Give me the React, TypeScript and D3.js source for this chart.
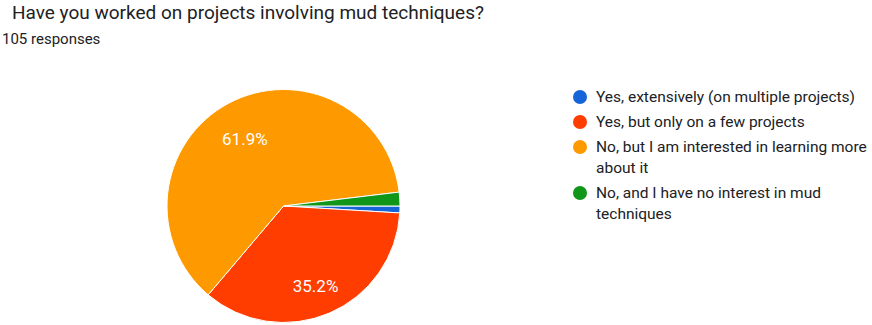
import { useEffect, useRef } from "react";
import * as d3 from "d3";

const TITLE = "Have you worked on projects involving mud techniques?";
const SUBTITLE = "105 responses";

const CATEGORIES = [
  ["Yes, extensively (on multiple projects)"],
  ["Yes, but only on a few projects"],
  ["No, but I am interested in learning more", "about it"],
  ["No, and I have no interest in mud", "techniques"],
];
const COUNTS = [1, 37, 65, 2];
const COLORS = ["#1565d8", "#ff3d00", "#ff9900", "#109618"];

const LAYOUT = {
  width: 872,
  height: 325,
  center: { x: 283.5, y: 206 },
  radius: 116.5,
  labelRatio: 0.7,
  labelShift: 5,
  legend: { x: 580, y: 97, row: 25, wrap: 21, dot: 7, textDx: 16 },
};

const FONT = "Roboto, 'Noto Sans', Arial, sans-serif";

function drawTitle(svg) {
  svg
    .append("text")
    .attr("x", 12)
    .attr("y", 19)
    .attr("font-size", 19)
    .attr("fill", "#202124")
    .text(TITLE);

  svg
    .append("text")
    .attr("x", 2)
    .attr("y", 44)
    .attr("font-size", 15)
    .attr("fill", "#202124")
    .text(SUBTITLE);
}

function drawPie(svg) {
  const { center, radius, labelRatio, labelShift } = LAYOUT;
  const total = d3.sum(COUNTS);

  const pie = d3
    .pie()
    .sort(null)
    .startAngle(Math.PI / 2)
    .endAngle(Math.PI / 2 + 2 * Math.PI)
    .value((d) => d);

  const arc = d3.arc().innerRadius(0).outerRadius(radius);
  const labelArc = d3
    .arc()
    .innerRadius(radius * labelRatio)
    .outerRadius(radius * labelRatio);

  const g = svg
    .append("g")
    .attr("transform", `translate(${center.x},${center.y})`);

  const arcs = pie(COUNTS);

  g.selectAll("path")
    .data(arcs)
    .join("path")
    .attr("d", arc)
    .attr("fill", (_d, i) => COLORS[i])
    .attr("stroke", "#fff")
    .attr("stroke-width", 1);

  // only slices big enough get a percentage label
  g.selectAll("text")
    .data(arcs.filter((d) => d.value / total > 0.05))
    .join("text")
    .attr("transform", (d) => {
      const [x, y] = labelArc.centroid(d);
      return `translate(${x},${y + labelShift})`;
    })
    .attr("text-anchor", "middle")
    .attr("dy", "0.36em")
    .attr("font-size", 17)
    .attr("fill", "#fff")
    .text((d) => `${((d.value / total) * 100).toFixed(1)}%`);
}

function drawLegend(svg) {
  const { legend } = LAYOUT;
  let y = legend.y;

  CATEGORIES.forEach((lines, i) => {
    const row = svg.append("g").attr("transform", `translate(${legend.x},${y})`);

    row
      .append("circle")
      .attr("r", legend.dot)
      .attr("fill", COLORS[i]);

    lines.forEach((line, j) => {
      row
        .append("text")
        .attr("x", legend.textDx)
        .attr("y", j * legend.wrap)
        .attr("dy", "0.35em")
        .attr("font-size", 15.5)
        .attr("fill", "#202124")
        .text(line);
    });

    y += legend.row + (lines.length - 1) * legend.wrap;
  });
}

export default function App() {
  const ref = useRef(null);

  useEffect(() => {
    const el = ref.current;
    if (!el) return;
    const svg = d3.select(el);
    svg.selectAll("*").remove();

    drawTitle(svg);
    drawPie(svg);
    drawLegend(svg);
  }, []);

  return (
    <svg
      ref={ref}
      width={LAYOUT.width}
      height={LAYOUT.height}
      style={{
        position: "absolute",
        left: 0,
        top: 0,
        background: "#fff",
        fontFamily: FONT,
      }}
    />
  );
}
